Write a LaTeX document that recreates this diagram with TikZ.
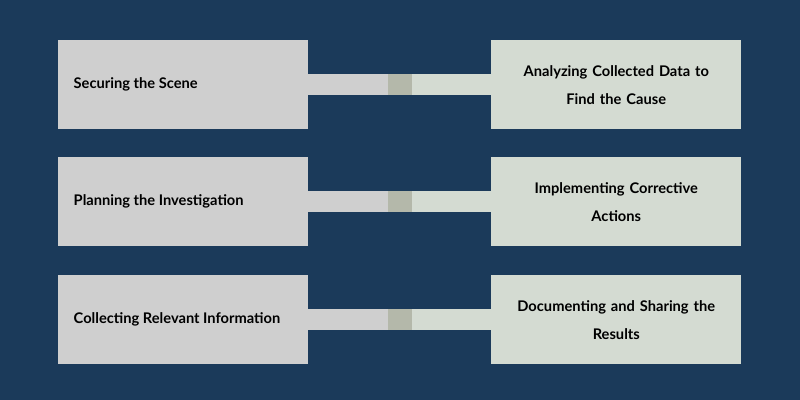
\documentclass[tikz,border=0pt]{standalone}
\usepackage{fontspec}
\setmainfont{Lato}
\definecolor{bg}{HTML}{1B3A5A}
\definecolor{lbox}{HTML}{CFCFCF}
\definecolor{rbox}{HTML}{D4DBD2}
\definecolor{sq}{HTML}{B4B8AA}
\begin{document}
\begin{tikzpicture}[x=0.75pt,y=-0.75pt,
 lb/.style={fill=lbox,draw=none,minimum width=187.5pt,minimum height=66.75pt,inner sep=0pt,anchor=north west,font=\fontsize{11}{21}\selectfont\bfseries,text=black},
 rb/.style={fill=rbox,draw=none,minimum width=187.5pt,minimum height=66.75pt,inner sep=0pt,anchor=north west,align=center,text width=180pt,font=\fontsize{11}{21}\selectfont\bfseries,text=black}]
\fill[bg] (0,0) rectangle (800,400);
\foreach \y/\l/\r/\i in {40/{Securing the Scene}/{Analyzing Collected Data to\\Find the Cause}/1,
 157/{Planning the Investigation}/{Implementing Corrective\\Actions}/2,
 275/{Collecting Relevant Information}/{Documenting and Sharing the\\Results}/3}{
 \fill[lbox] (300,\y+34) rectangle (395,\y+55);
 \fill[rbox] (400,\y+34) rectangle (498,\y+55);
 \fill[sq] (388,\y+34) rectangle (412,\y+55);
 \node[lb] (L\i) at (58,\y) {};
 \node[anchor=west,font=\fontsize{11}{21}\selectfont\bfseries] (LT\i) at (69,\y+44) {\l};
 \node[rb] (R\i) at (491,\y) {\r};
}
\end{tikzpicture}
\end{document}
